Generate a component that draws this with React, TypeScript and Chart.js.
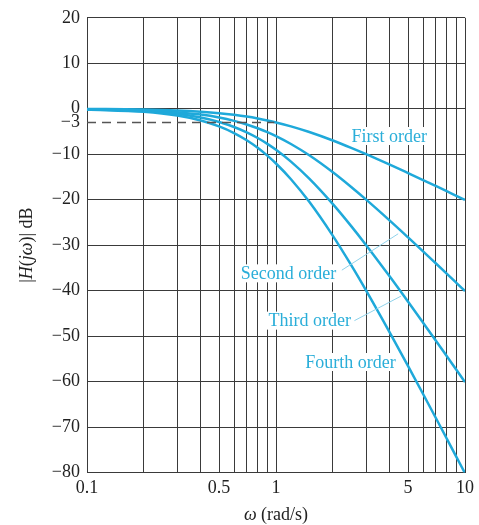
import React, { useEffect, useRef } from "react";
import { Chart, registerables } from "chart.js";

Chart.register(...registerables);

// ω (rad/s) sample points
const omega = [0.1, 0.2, 0.3, 0.4, 0.5, 0.6, 0.7, 0.8, 0.9, 1, 1.2, 1.5, 2, 2.5, 3, 4, 5, 6, 7, 8, 9, 10];
// |H(jω)| dB
const firstOrder = [-0.04, -0.17, -0.37, -0.65, -0.97, -1.34, -1.73, -2.15, -2.58, -3.01, -3.87, -5.12, -6.99, -8.6, -10.0, -12.3, -14.15, -15.68, -16.99, -18.13, -19.14, -20.04];
const secondOrder = [-0.09, -0.34, -0.75, -1.29, -1.94, -2.67, -3.46, -4.3, -5.15, -6.02, -7.75, -10.24, -13.98, -17.21, -20.0, -24.61, -28.3, -31.36, -33.98, -36.26, -38.28, -40.09];
const thirdOrder = [-0.13, -0.51, -1.12, -1.94, -2.91, -4.01, -5.2, -6.44, -7.73, -9.03, -11.62, -15.36, -20.97, -25.81, -30.0, -36.91, -42.45, -47.05, -50.97, -54.39, -57.41, -60.13];
const fourthOrder = [-0.17, -0.68, -1.5, -2.58, -3.88, -5.34, -6.93, -8.59, -10.31, -12.04, -15.5, -20.48, -27.96, -34.41, -40.0, -49.22, -56.6, -62.73, -67.96, -72.52, -76.55, -80.17];

// axis ticks
const xGridTicks = [0.1, 0.2, 0.3, 0.4, 0.5, 0.6, 0.7, 0.8, 0.9, 1, 2, 3, 4, 5, 6, 7, 8, 9, 10];
const xLabelTicks = [0.1, 0.5, 1, 5, 10];
const yTicks = [20, 10, 0, -3, -10, -20, -30, -40, -50, -60, -70, -80];

// -3 dB reference line
const refOmega = [0.1, 0.98];
const refDb = [-3, -3];

// curve labels: text, ω, dB
const labelTexts = ["First order", "Second order", "Third order", "Fourth order"];
const labelOmega = [3.97, 1.163, 1.509, 2.478];
const labelDb = [-6.0, -36.2, -46.6, -55.7];

// leader lines (from label to curve)
const leaderOmega = [[2.23, 4.43], [2.6, 4.59]];
const leaderDb = [[-35.5, -27.5], [-46.6, -41.2]];

const SERIF = '"Liberation Serif", "Times New Roman", serif';
const CURVE = "#1fa9da";
const TEXT_CYAN = "#2aaed9";
const GRID = "#3a3a3a";

const zip = (xs: number[], ys: number[]) => xs.map((x, i) => ({ x, y: ys[i] }));

const fmt = (v: number) => (v < 0 ? "\u2212" + Math.abs(v) : String(v));

function drawMixed(ctx: CanvasRenderingContext2D, parts: [string, boolean][], size: number) {
  let total = 0;
  const widths = parts.map(([t, it]) => {
    ctx.font = `${it ? "italic " : ""}${size}px ${SERIF}`;
    const w = ctx.measureText(t).width;
    total += w;
    return w;
  });
  let x = -total / 2;
  parts.forEach(([t, it], i) => {
    ctx.font = `${it ? "italic " : ""}${size}px ${SERIF}`;
    ctx.fillText(t, x, 0);
    x += widths[i];
  });
}

const labelsPlugin = {
  id: "curveLabels",
  beforeDatasetsDraw(chart: any) {
    const { ctx, scales } = chart;
    ctx.save();
    ctx.font = `18px ${SERIF}`;
    ctx.textAlign = "center";
    ctx.textBaseline = "middle";
    labelTexts.forEach((t, i) => {
      const px = scales.x.getPixelForValue(labelOmega[i]);
      const py = scales.y.getPixelForValue(labelDb[i]);
      const w = ctx.measureText(t).width;
      ctx.fillStyle = "#ffffff";
      ctx.fillRect(px - w / 2 - 2, py - 9, w + 4, 18);
      ctx.fillStyle = TEXT_CYAN;
      ctx.fillText(t, px, py + 1);
    });
    ctx.restore();
  },
  afterDraw(chart: any) {
    const { ctx, chartArea } = chart;
    ctx.save();
    ctx.fillStyle = "#222";
    ctx.textBaseline = "middle";
    // y title
    ctx.save();
    ctx.translate(27, (chartArea.top + chartArea.bottom) / 2);
    ctx.rotate(-Math.PI / 2);
    drawMixed(ctx, [["|", false], ["H", true], ["(", false], ["j\u03c9", true], [")| dB", false]], 18);
    ctx.restore();
    // x title
    ctx.save();
    ctx.translate((chartArea.left + chartArea.right) / 2, 515);
    drawMixed(ctx, [["\u03c9", true], [" (rad/s)", false]], 18);
    ctx.restore();
    ctx.restore();
  },
};

export default function App() {
  const ref = useRef<HTMLCanvasElement>(null);
  useEffect(() => {
    if (!ref.current) return;
    const curveDs = (data: number[]) => ({
      data: zip(omega, data),
      borderColor: CURVE,
      borderWidth: 2.5,
      pointRadius: 0,
      cubicInterpolationMode: "monotone" as const,
      fill: false,
    });
    const chart = new Chart(ref.current, {
      type: "line",
      data: {
        datasets: [
          {
            data: zip(refOmega, refDb),
            borderColor: "#555",
            borderWidth: 1.5,
            borderDash: [9, 6],
            pointRadius: 0,
            fill: false,
          },
          ...leaderOmega.map((lx, i) => ({
            data: zip(lx, leaderDb[i]),
            borderColor: "#8fd2ea",
            borderWidth: 1,
            pointRadius: 0,
            fill: false,
          })),
          curveDs(firstOrder),
          curveDs(secondOrder),
          curveDs(thirdOrder),
          curveDs(fourthOrder),
        ],
      },
      options: {
        animation: false,
        responsive: false,
        devicePixelRatio: 1,
        layout: { padding: { left: 0, right: 12, top: 11, bottom: 0 } },
        plugins: { legend: { display: false }, tooltip: { enabled: false } },
        scales: {
          x: {
            type: "logarithmic",
            min: 0.1,
            max: 10,
            afterBuildTicks: (s: any) => {
              s.ticks = xGridTicks.map((v) => ({ value: v }));
            },
            afterFit: (s: any) => {
              s.height = 52.5;
            },
            ticks: {
              autoSkip: false,
              maxRotation: 0,
              padding: 5,
              color: "#222",
              font: { family: SERIF, size: 18 },
              callback: (v: any) => {
                const n = Number(v);
                return xLabelTicks.some((t) => Math.abs(t - n) < 1e-9) ? String(n) : "";
              },
            },
            grid: { color: GRID, lineWidth: 1, drawTicks: false },
            border: { color: GRID, width: 1 },
          },
          y: {
            type: "linear",
            min: -80,
            max: 20,
            afterBuildTicks: (s: any) => {
              s.ticks = yTicks.map((v) => ({ value: v }));
            },
            afterFit: (s: any) => {
              s.width = 87;
            },
            ticks: {
              autoSkip: false,
              padding: 7,
              color: "#222",
              font: { family: SERIF, size: 18 },
              callback: (v: any) => fmt(Number(v)),
            },
            grid: {
              color: (c: any) => (c.tick && c.tick.value === -3 ? "rgba(0,0,0,0)" : GRID),
              lineWidth: 1,
              drawTicks: false,
            },
            border: { color: GRID, width: 1 },
          },
        },
      },
      plugins: [labelsPlugin],
    } as any);
    return () => chart.destroy();
  }, []);
  return (
    <div style={{ position: "fixed", left: 0, top: 0, width: 479, height: 525, background: "#fff" }}>
      <canvas ref={ref} width={479} height={525} />
    </div>
  );
}
